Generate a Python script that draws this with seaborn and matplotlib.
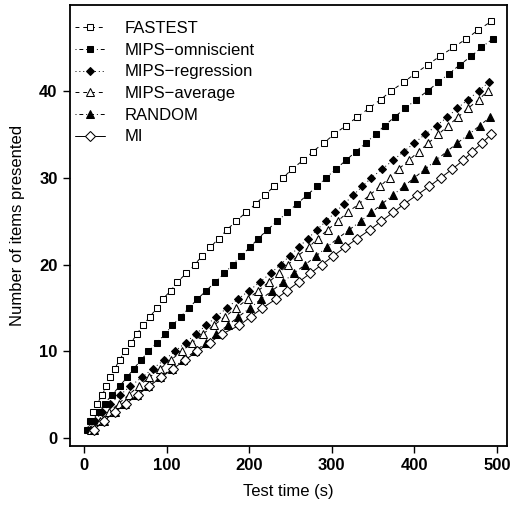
import numpy as np
import pandas as pd
import seaborn as sns
import matplotlib.pyplot as plt

# Tempo (s) em que cada item foi apresentado
fastest_t = [4, 7, 11, 16, 22, 27, 32, 37, 43, 49, 57, 64, 71, 80, 88, 95, 105, 113, 124, 134,
             143, 153, 163, 173, 184, 196, 208, 219, 230, 241, 252, 265, 277, 290, 303, 317,
             331, 345, 359, 372, 387, 401, 416, 431, 447, 463, 477, 493]
omniscient_t = [5, 9, 18, 25, 34, 43, 52, 60, 69, 78, 88, 98, 107, 117, 127, 137, 148, 159, 170,
                180, 190, 201, 211, 222, 234, 246, 258, 270, 282, 293, 305, 317, 329, 341, 353,
                364, 376, 389, 402, 416, 429, 442, 455, 469, 481, 495]
regression_t = [7, 13, 22, 32, 44, 56, 70, 83, 97, 110, 123, 135, 148, 160, 173, 186, 200, 213,
                226, 238, 249, 260, 271, 282, 293, 304, 315, 326, 337, 348, 361, 374, 387, 400,
                413, 427, 440, 452, 465, 478, 490]
average_t = [9, 19, 30, 42, 54, 66, 79, 92, 105, 118, 131, 144, 157, 171, 184, 198, 211, 224,
             236, 247, 259, 272, 283, 295, 307, 319, 333, 346, 358, 370, 381, 393, 405, 417,
             429, 441, 453, 465, 478, 489]
random_t = [12, 24, 37, 50, 64, 78, 92, 106, 120, 134, 148, 160, 174, 187, 201, 214, 228, 241,
            254, 268, 281, 294, 307, 321, 335, 348, 361, 374, 387, 400, 413, 426, 439, 452,
            466, 479, 492]
mi_t = [12, 24, 37, 51, 65, 79, 93, 108, 122, 137, 152, 167, 188, 202, 216, 232, 246, 260, 274,
        288, 302, 316, 331, 346, 360, 374, 388, 403, 418, 432, 446, 459, 470, 482, 493]

series = {
    'FASTEST': fastest_t,
    'MIPS\u2212omniscient': omniscient_t,
    'MIPS\u2212regression': regression_t,
    'MIPS\u2212average': average_t,
    'RANDOM': random_t,
    'MI': mi_t,
}

df = pd.concat([
    pd.DataFrame({'Tempo': t, 'Itens': np.arange(1, len(t) + 1), 'Método': nome})
    for nome, t in series.items()
])

# Estilo de cada curva (marcador, preenchimento, tamanho, tracejado)
estilos = {
    'FASTEST': ('s', 'white', 4.5, (4, 4)),
    'MIPS\u2212omniscient': ('s', 'black', 4.5, (1, 3, 4, 3)),
    'MIPS\u2212regression': ('D', 'black', 4.3, (1, 3)),
    'MIPS\u2212average': ('^', 'white', 5.7, (4, 4)),
    'RANDOM': ('^', 'black', 5.7, (1, 3, 4, 3)),
    'MI': ('D', 'white', 4.7, None),
}

sns.set_style("ticks")
plt.rcParams['font.family'] = ['Liberation Sans', 'DejaVu Sans']
plt.rcParams['text.color'] = 'black'
plt.rcParams['axes.labelcolor'] = 'black'
plt.rcParams['xtick.color'] = 'black'
plt.rcParams['ytick.color'] = 'black'

fig = plt.figure(figsize=(5.11, 5.09), dpi=100)
ax = fig.add_axes([0.137, 0.124, 0.855, 0.866])

for nome in series:
    marker, fill, ms, dash = estilos[nome]
    sub = df[df['Método'] == nome]
    kws = dict(marker=marker, markersize=ms, markerfacecolor=fill,
               markeredgecolor='black', markeredgewidth=0.75,
               color='black', linewidth=0.7, label=nome)
    if dash is None:
        kws['linestyle'] = '-'
    else:
        kws['linestyle'] = (0, dash)
    sns.lineplot(x='Tempo', y='Itens', data=sub, sort=False, estimator=None, ax=ax, **kws)

ax.set_xlim(-17, 512)
ax.set_ylim(-0.88, 49.88)
ax.set_xticks([0, 100, 200, 300, 400, 500])
ax.set_yticks([0, 10, 20, 30, 40])
ax.tick_params(axis='both', direction='out', length=5, width=1, labelsize=12,
               color='black', pad=4)
for lab in ax.get_xticklabels() + ax.get_yticklabels():
    lab.set_fontweight('bold')
for s in ax.spines.values():
    s.set_linewidth(1.3)
    s.set_color('black')

ax.set_xlabel('Test time (s)', fontsize=12, labelpad=8)
ax.set_ylabel('Number of items presented', fontsize=12, labelpad=10)

ax.legend(loc='upper left', bbox_to_anchor=(0, 0.975), frameon=False, fontsize=12,
          numpoints=1, handlelength=1.8, handletextpad=1.15, labelspacing=0.4,
          borderaxespad=0.1, borderpad=0.2)

fig.savefig('out.png', dpi=100)
